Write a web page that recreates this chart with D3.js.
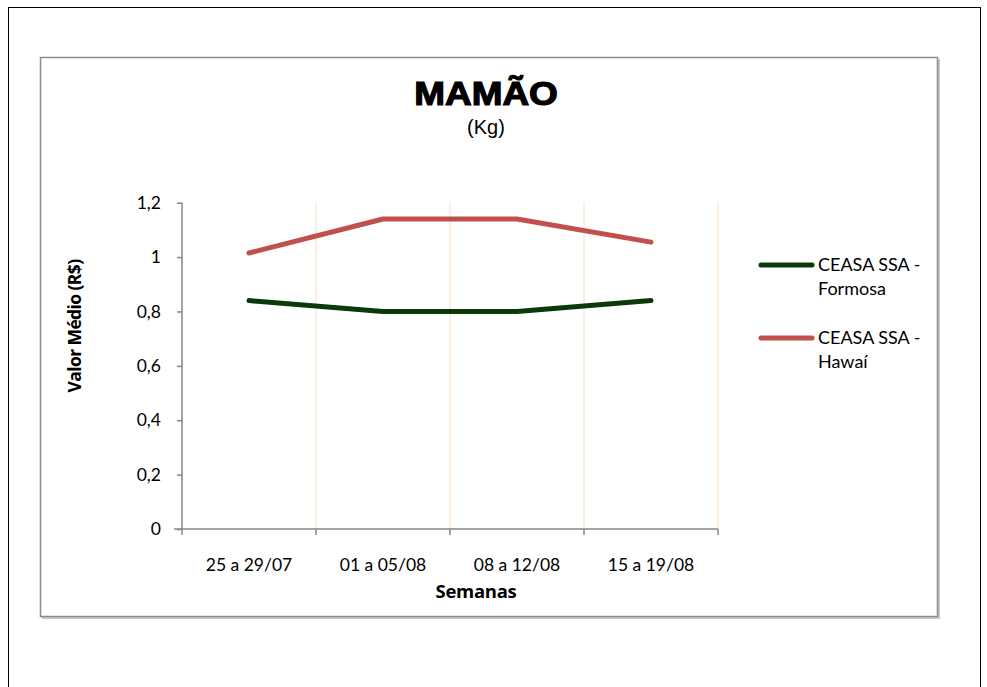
<!DOCTYPE html>
<html><head><meta charset="utf-8">
<script src="https://cdn.jsdelivr.net/npm/d3@7"></script>
<style>body{margin:0;background:#fff}svg{display:block}</style>
</head><body>
<script>
const categories = ["25 a 29/07","01 a 05/08","08 a 12/08","15 a 19/08"];
const formosa = [0.84, 0.80, 0.80, 0.84];
const hawai = [1.015, 1.14, 1.14, 1.055];
const seriesNames = [["CEASA SSA -","Formosa"],["CEASA SSA -","Hawaí"]];
const yTicks = [0,0.2,0.4,0.6,0.8,1,1.2];
const yTickLabels = ["0","0,2","0,4","0,6","0,8","1","1,2"];
const colors = ["#0a3a0a","#c0504d"];

const W=987,H=687;
const svg=d3.select("body").append("svg").attr("width",W).attr("height",H);
svg.append("rect").attr("x",8.5).attr("y",7.5).attr("width",972).attr("height",700).attr("fill","none").attr("stroke","#000").attr("stroke-width",1);
svg.append("rect").attr("x",42).attr("y",59).attr("width",898).attr("height",560).attr("fill","#c8c8c8");
svg.append("rect").attr("x",40.5).attr("y",57.5).attr("width",897).attr("height",559).attr("fill","#fff").attr("stroke","#8c8c8c").attr("stroke-width",1.5);

const x0=182,x1=718,y0=529,y1=202.7;
const x=d3.scaleBand().domain(categories).range([x0,x1]);
const y=d3.scaleLinear().domain([0,1.2]).range([y0,y1]);

const bounds=categories.map(c=>x(c)+x.bandwidth());
svg.selectAll(".grid").data(bounds).enter().append("line")
 .attr("x1",d=>d).attr("x2",d=>d).attr("y1",y(1.2)).attr("y2",y0)
 .attr("stroke","#fde9d9").attr("stroke-width",1.5);

const ya=svg.append("g").attr("transform",`translate(${x0},0)`)
 .call(d3.axisLeft(y).tickValues(yTicks).tickFormat((d,i)=>yTickLabels[i]).tickSize(5).tickPadding(16));
ya.select(".domain").attr("stroke","#868686").attr("stroke-width",1.5).attr("d",`M0,${y(1.2)}V${y0}`);
ya.selectAll(".tick line").attr("stroke","#868686").attr("stroke-width",1.5);
ya.selectAll("text").attr("font-family","Lato, 'Open Sans', sans-serif").attr("font-size",17.5).attr("fill","#000");

const xa=svg.append("g").attr("transform",`translate(0,${y0})`)
 .call(d3.axisBottom(x).tickSize(0).tickPadding(30));
xa.select(".domain").attr("stroke","#868686").attr("stroke-width",1.5).attr("d",`M${x0-8},0H${x1}`);
xa.selectAll("text").attr("font-family","Lato, 'Open Sans', sans-serif").attr("font-size",17.5).attr("fill","#000");
svg.selectAll(".xt").data([x0,...bounds]).enter().append("line")
 .attr("x1",d=>d).attr("x2",d=>d).attr("y1",y0).attr("y2",y0+6)
 .attr("stroke","#868686").attr("stroke-width",1.5);

const line=d3.line().x((d,i)=>x(categories[i])+x.bandwidth()/2).y(d=>y(d));
[formosa,hawai].forEach((s,k)=>{
 svg.append("path").datum(s).attr("d",line).attr("fill","none")
  .attr("stroke",colors[k]).attr("stroke-width",5).attr("stroke-linecap","round").attr("stroke-linejoin","round");
});

svg.append("text").attr("transform","translate(486,105) scale(1.12,1)").attr("text-anchor","middle")
 .attr("font-family","'Liberation Sans', Arial, sans-serif").attr("font-weight","900").attr("font-size",33)
 .attr("stroke","#000").attr("stroke-width",1.2).text("MAMÃO");
svg.append("text").attr("x",486).attr("y",134).attr("text-anchor","middle")
 .attr("font-family","'Liberation Sans', Arial, sans-serif").attr("font-size",20).text("(Kg)");
svg.append("text").attr("x",476).attr("y",598).attr("text-anchor","middle")
 .attr("font-family","'Open Sans', sans-serif").attr("font-weight","bold").attr("font-size",18.5).attr("letter-spacing",-0.3).text("Semanas");
svg.append("text").attr("transform","translate(81,326) rotate(-90)").attr("text-anchor","middle")
 .attr("font-family","'Open Sans', sans-serif").attr("font-weight","bold").attr("font-size",17.5).attr("letter-spacing",-0.6).text("Valor Médio (R$)");

const leg=[265,338];
seriesNames.forEach((n,k)=>{
 svg.append("line").attr("x1",761).attr("x2",812).attr("y1",leg[k]).attr("y2",leg[k])
  .attr("stroke",colors[k]).attr("stroke-width",5).attr("stroke-linecap","round");
 const t=svg.append("text").attr("x",818).attr("y",leg[k]+6)
  .attr("font-family","Lato, 'Open Sans', sans-serif").attr("font-size",18);
 t.append("tspan").attr("x",818).text(n[0]);
 t.append("tspan").attr("x",818).attr("dy",24).text(n[1]);
});
</script>
</body></html>
